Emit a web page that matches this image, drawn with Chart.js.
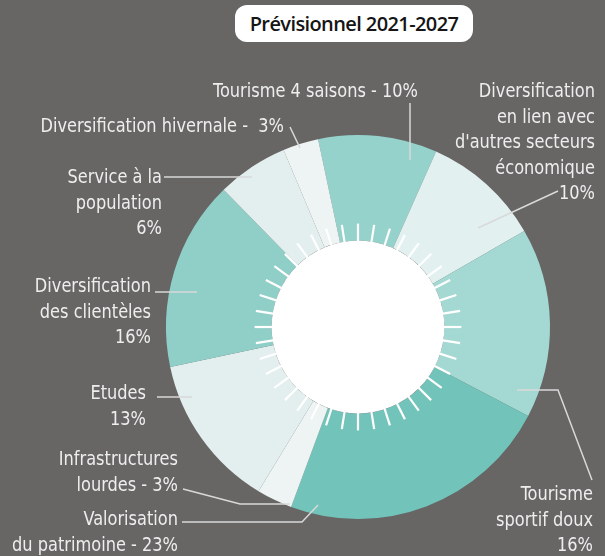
<!DOCTYPE html>
<html lang="fr">
<head>
<meta charset="utf-8">
<title>Prévisionnel 2021-2027</title>
<script src="https://cdn.jsdelivr.net/npm/chart.js@4/dist/chart.umd.min.js"></script>
<style>
  html, body { margin: 0; padding: 0; background: #676665; }
  #wrap { position: relative; width: 605px; height: 556px; overflow: hidden; }
  #chart { position: absolute; left: 0; top: 0; }
  .badge {
    position: absolute; left: 235px; top: 5px; width: 238px; height: 37px;
    background: #fff; border-radius: 12px;
    font: 600 20px "Open Sans", sans-serif; color: #151515;
    text-align: center; line-height: 37px; letter-spacing: -0.6px;
  }
</style>
</head>
<body>
<div id="wrap">
  <canvas id="chart" width="605" height="556"></canvas>
  <div class="badge">Prévisionnel 2021-2027</div>
</div>
<script>
// répartition prévisionnelle (%), dans le sens horaire depuis le haut
var categories = [
    'Tourisme 4 saisons',
    "Diversification en lien avec d'autres secteurs économique",
    'Tourisme sportif doux',
    'Valorisation du patrimoine',
    'Infrastructures lourdes',
    'Etudes',
    'Diversification des clientèles',
    'Service à la population',
    'Diversification hivernale'
];
var shares = [10, 10, 16, 23, 3, 13, 16, 6, 3];

// libellés affichés, {v} est remplacé par la part
var labelLines = [
    ['Tourisme 4 saisons - {v}%'],
    ['Diversification', 'en lien avec', "d'autres secteurs", 'économique', '{v}%'],
    ['Tourisme', 'sportif doux', '{v}%'],
    ['Valorisation', 'du patrimoine - {v}%'],
    ['Infrastructures', 'lourdes - {v}%'],
    ['Etudes', '{v}%'],
    ['Diversification', 'des clientèles', '{v}%'],
    ['Service à la', 'population', '{v}%'],
    ['Diversification hivernale -  {v}%']
];

var sliceColors = ['#95d2cb', '#e2f0ef', '#a4d9d3', '#72c4ba', '#eef4f3',
                   '#e2efee', '#8fcfc7', '#e2efee', '#eef4f3'];

// position des textes (bord droit, première ligne de base) et des traits de rappel
var labelLayout = [
    { x: 418, y: 97,  line: [[410, 103], [410, 160]] },
    { x: 595, y: 97,  line: [[558, 191], [478, 228]] },
    { x: 593, y: 500, line: [[517, 390], [558, 390], [592, 480]] },
    { x: 178, y: 525, line: [[182, 522], [302, 522], [318, 505]] },
    { x: 178, y: 465, line: [[183, 489], [240, 504], [290, 504]] },
    { x: 146, y: 399, line: [[157, 397], [192, 397]] },
    { x: 151, y: 292, line: [[155, 292], [197, 292]] },
    { x: 162, y: 183, line: [[164, 177], [252, 177]] },
    { x: 284, y: 132, line: [[290, 127], [300, 148]] }
];

// disque blanc central + rayons
var sunPlugin = {
    id: 'sun',
    afterDatasetsDraw: function (chart) {
        var arc = chart.getDatasetMeta(0).data[0];
        var cx = arc.x, cy = arc.y, r = arc.innerRadius;
        var ctx = chart.ctx;
        ctx.save();
        ctx.fillStyle = '#ffffff';
        ctx.beginPath();
        ctx.arc(cx, cy, r, 0, Math.PI * 2);
        ctx.fill();
        ctx.strokeStyle = '#ffffff';
        ctx.lineWidth = 2.2;
        for (var i = 0; i < 40; i++) {
            var a = i * Math.PI * 2 / 40 - Math.PI / 2;
            ctx.beginPath();
            ctx.moveTo(cx + Math.cos(a) * (r - 2), cy + Math.sin(a) * (r - 2));
            ctx.lineTo(cx + Math.cos(a) * (r + 17), cy + Math.sin(a) * (r + 17));
            ctx.stroke();
        }
        ctx.restore();
    }
};

// libellés extérieurs avec traits (texte resserré horizontalement)
var calloutPlugin = {
    id: 'callouts',
    afterDraw: function (chart) {
        var ctx = chart.ctx;
        var values = chart.data.datasets[0].data;
        ctx.save();
        ctx.strokeStyle = '#d9d9d9';
        ctx.lineWidth = 1.5;
        ctx.fillStyle = '#eeeeee';
        ctx.font = '20px "DejaVu Sans Condensed", "Liberation Sans Narrow", sans-serif';
        ctx.textAlign = 'right';
        ctx.textBaseline = 'alphabetic';
        labelLayout.forEach(function (lay, i) {
            ctx.beginPath();
            lay.line.forEach(function (p, j) {
                if (j === 0) ctx.moveTo(p[0], p[1]); else ctx.lineTo(p[0], p[1]);
            });
            ctx.stroke();
            labelLines[i].forEach(function (txt, k) {
                ctx.save();
                ctx.translate(lay.x, lay.y + k * 25.5);
                ctx.scale(0.9, 1);
                ctx.fillText(txt.replace('{v}', values[i]), 0, 0);
                ctx.restore();
            });
        });
        ctx.restore();
    }
};

new Chart(document.getElementById('chart'), {
    type: 'doughnut',
    data: {
        labels: categories,
        datasets: [{
            data: shares,
            backgroundColor: sliceColors,
            borderWidth: 0
        }]
    },
    options: {
        responsive: false,
        animation: false,
        rotation: -12,
        cutout: '45%',
        layout: { padding: { left: 166, right: 55, top: 135, bottom: 37 } },
        plugins: {
            legend: { display: false },
            tooltip: { enabled: false }
        }
    },
    plugins: [sunPlugin, calloutPlugin]
});
</script>
</body>
</html>
